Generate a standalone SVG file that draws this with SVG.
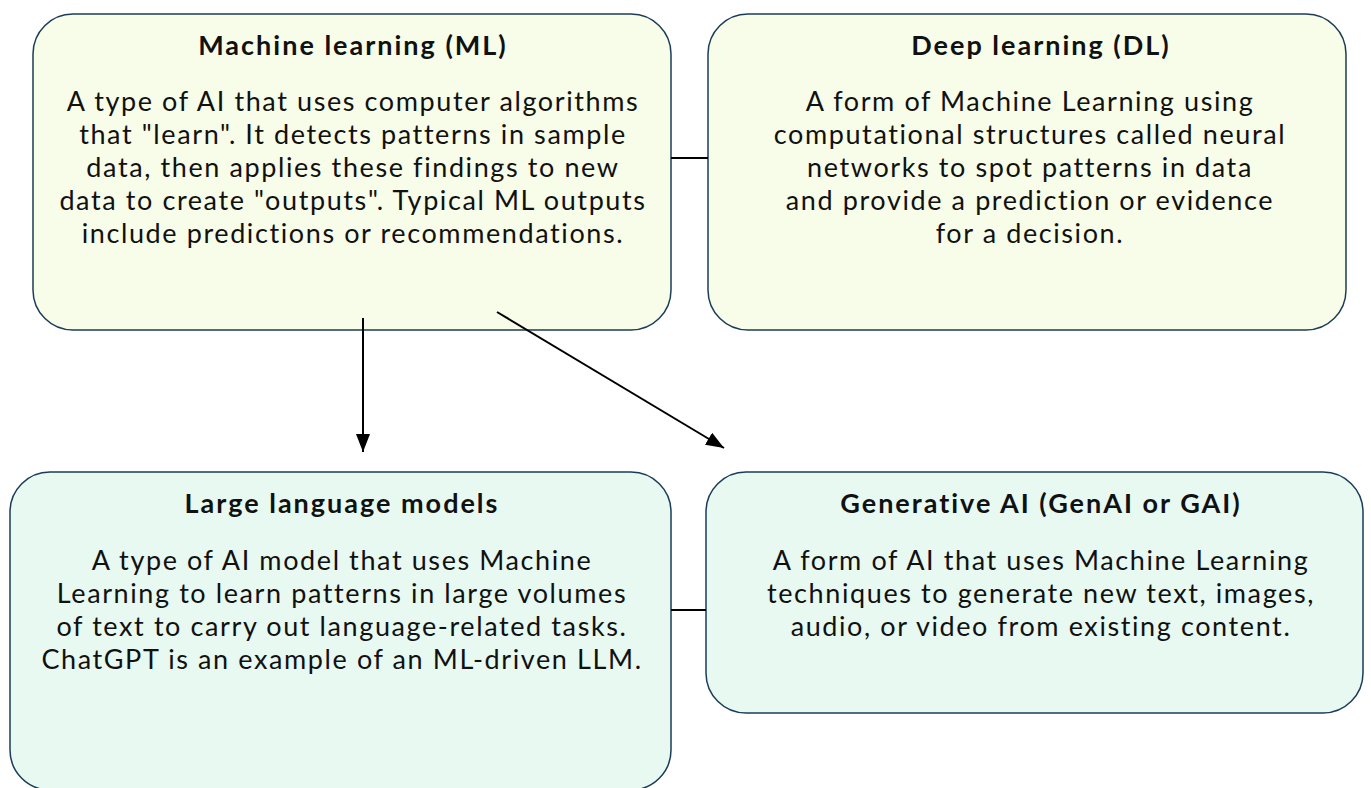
<svg xmlns="http://www.w3.org/2000/svg" width="1371" height="788" viewBox="0 0 1371 788">
<defs>
<style>
.top{fill:#F7FDE9;stroke:#1C3D57;stroke-width:1.5}
.bot{fill:#E7F9F1;stroke:#1C3D57;stroke-width:1.5}
.title{font-family:Lato,"Liberation Sans",sans-serif;font-weight:bold;font-size:27px;letter-spacing:2px;fill:#111;text-anchor:middle}
.body{font-family:Lato,"Liberation Sans",sans-serif;font-size:27px;letter-spacing:1.6px;fill:#111;text-anchor:middle}
.conn{stroke:#000;stroke-width:2;fill:none}
</style>
<marker id="ah" viewBox="0 0 18 14" refX="18" refY="7" markerWidth="18" markerHeight="14" markerUnits="userSpaceOnUse" orient="auto">
<path d="M0,0 L18,7 L0,14 z" fill="#000"/>
</marker>
</defs>
<rect width="1371" height="788" fill="#fff"/>
<g id="ml">
<rect class="top" x="33" y="14" width="638" height="316" rx="40"/>
<text class="title" x="353" y="55">Machine learning (ML)</text>
<text class="body" x="353" y="111">A type of AI that uses computer algorithms</text>
<text class="body" x="353" y="144">that "learn". It detects patterns in sample</text>
<text class="body" x="353" y="177">data, then applies these findings to new</text>
<text class="body" x="353" y="210">data to create "outputs". Typical ML outputs</text>
<text class="body" x="353" y="243">include predictions or recommendations.</text>
</g>
<g id="dl">
<rect class="top" x="708" y="14" width="638" height="316" rx="40"/>
<text class="title" x="1041" y="55">Deep learning (DL)</text>
<text class="body" x="1030" y="111">A form of Machine Learning using</text>
<text class="body" x="1030" y="144">computational structures called neural</text>
<text class="body" x="1030" y="177">networks to spot patterns in data</text>
<text class="body" x="1030" y="210">and provide a prediction or evidence</text>
<text class="body" x="1030" y="243">for a decision.</text>
</g>
<g id="llm">
<rect class="bot" x="10" y="472" width="661" height="318" rx="40"/>
<text class="title" x="342" y="513">Large language models</text>
<text class="body" x="342" y="570">A type of AI model that uses Machine</text>
<text class="body" x="342" y="603">Learning to learn patterns in large volumes</text>
<text class="body" x="342" y="636">of text to carry out language-related tasks.</text>
<text class="body" x="342" y="669">ChatGPT is an example of an ML-driven LLM.</text>
</g>
<g id="genai">
<rect class="bot" x="706" y="472" width="657" height="241" rx="40"/>
<text class="title" x="1041" y="513">Generative AI (GenAI or GAI)</text>
<text class="body" x="1041" y="570">A form of AI that uses Machine Learning</text>
<text class="body" x="1041" y="603">techniques to generate new text, images,</text>
<text class="body" x="1041" y="636">audio, or video from existing content.</text>
</g>
<g id="connectors">
<line class="conn" x1="671" y1="158" x2="708" y2="158"/>
<line class="conn" x1="671" y1="610" x2="706" y2="610"/>
<line class="conn" x1="363" y1="318" x2="363" y2="452" marker-end="url(#ah)"/>
<line class="conn" x1="497" y1="312" x2="724" y2="448" marker-end="url(#ah)"/>
</g>
</svg>
